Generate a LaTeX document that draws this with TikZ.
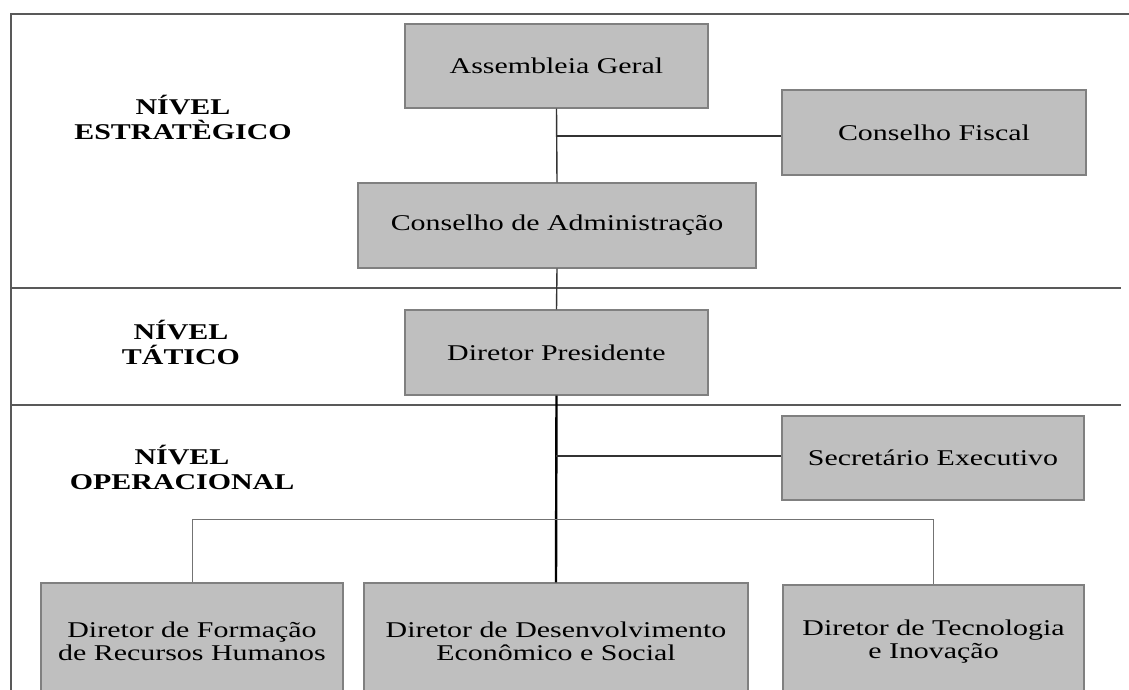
\documentclass[tikz,border=0pt]{standalone}
\usepackage{fontspec}
\setmainfont{Liberation Serif}[FakeStretch=1.33]
\begin{document}
\begin{tikzpicture}[x=1pt,y=-1pt,
  orgbox/.style={draw=black!50, fill=black!25, line width=1.4pt, inner sep=0pt, align=center,
    font=\fontsize{22.5}{23}\selectfont, text=black},
  level/.style={align=center, font=\fontsize{22.5}{25}\selectfont\bfseries, inner sep=0pt},
  frame/.style={draw=black!65, line width=1.5pt},
  link/.style={draw=black!80, line width=1.4pt},
  thinlink/.style={draw=black!55, line width=1pt},
  trunk/.style={draw=black, line width=2.4pt}]
\useasboundingbox (0,0) rectangle (1129,690);
\clip (0,0) rectangle (1129,690);
% frame and level dividers
\draw[frame] (11,690) -- (11,14) -- (1129,14);
\draw[frame] (11,288) -- (1121,288);
\draw[frame] (11,405) -- (1121,405);
% level labels
\node[level] (lvl1) at (183,117) {NÍVEL\\ESTRATÈGICO};
\node[level] (lvl2) at (181,342) {NÍVEL\\TÁTICO};
\node[level] (lvl3) at (182,467) {NÍVEL\\OPERACIONAL};
% boxes
\node[orgbox, minimum width=303, minimum height=84] (ag) at (556.5,66) {Assembleia Geral};
\node[orgbox, minimum width=304, minimum height=85] (cf) at (934,132.5) {Conselho Fiscal};
\node[orgbox, minimum width=398, minimum height=85] (ca) at (557,225.5) {Conselho de Administração};
\node[orgbox, minimum width=303, minimum height=85] (dp) at (556.5,352.5) {Diretor Presidente};
\node[orgbox, minimum width=302, minimum height=84] (se) at (933,458) {Secretário Executivo};
\node[orgbox, minimum width=302, minimum height=116] (d1) at (192,641) {Diretor de Formação\\de Recursos Humanos};
\node[orgbox, minimum width=384, minimum height=116] (d2) at (556,641) {Diretor de Desenvolvimento\\Econômico e Social};
\node[orgbox, minimum width=301, minimum height=114] (d3) at (933.5,642) {Diretor de Tecnologia\\e Inovação};
% connectors
\coordinate (jf) at (556,136);
\coordinate (js) at (556,456);
\coordinate (bar) at (556,519);
\draw[link] (ag.south) -- (ca.north);
\draw[link] (jf) -- (cf.west |- jf);
\draw[link] (ca.south) -- (dp.north);
\draw[trunk] (dp.south) -- (d2.north);
\draw[link] (js) -- (se.west |- js);
\draw[thinlink] (d1.north) -- (d1.north |- bar) -- (d3.north |- bar) -- (d3.north);
\end{tikzpicture}
\end{document}
